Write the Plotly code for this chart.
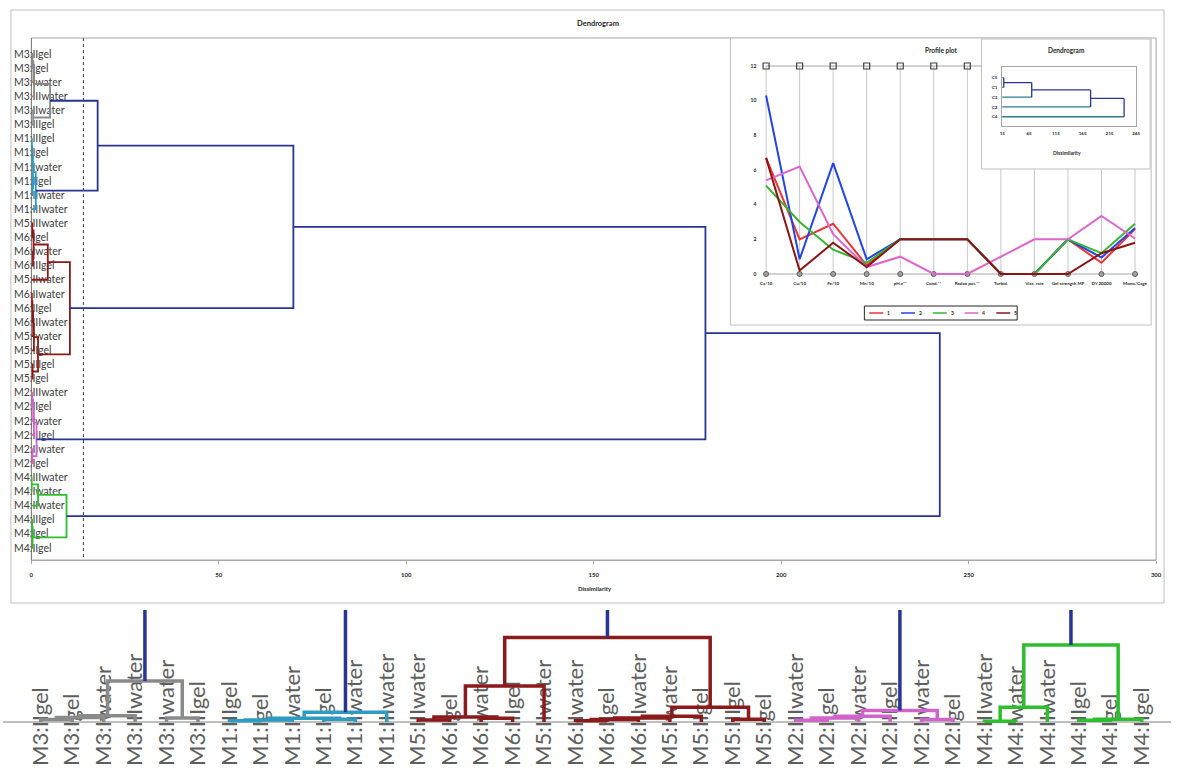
import plotly.graph_objects as go

W, H = 1177, 769

# ---------------------------------------------------------------- data
leaf_labels = [
    "M3:IIgel", "M3:Igel", "M3:Iwater", "M3:IIIwater", "M3:IIwater", "M3:IIIgel",
    "M1:IIIgel", "M1:Igel", "M1:Iwater", "M1:IIgel", "M1:IIwater", "M1:IIIwater",
    "M5:IIIwater", "M6:Igel", "M6:Iwater", "M6:IIIgel", "M5:IIwater", "M6:IIwater",
    "M6:IIgel", "M6:IIIwater", "M5:Iwater", "M5:IIgel", "M5:IIIgel", "M5:Igel",
    "M2:IIIwater", "M2:IIgel", "M2:Iwater", "M2:IIIgel", "M2:IIwater", "M2:Igel",
    "M4:IIIwater", "M4:Iwater", "M4:IIwater", "M4:IIIgel", "M4:Igel", "M4:IIgel",
]

# agglomeration steps (ids >= 36 refer to earlier steps, scipy-style)
merge_left = [0, 36, 37, 4, 38,
              6, 41, 9, 42, 44,
              12, 14, 46, 48, 17, 50, 51, 52, 22, 53, 49,
              24, 57, 58, 28, 59,
              30, 62, 33, 64, 63,
              40, 67, 68, 69]
merge_right = [1, 2, 3, 5, 39,
               7, 8, 10, 43, 11,
               13, 15, 47, 16, 18, 19, 20, 21, 23, 54, 55,
               25, 26, 27, 29, 60,
               31, 32, 34, 35, 65,
               45, 56, 61, 66]
merge_height = [0.30, 0.55, 0.75, 0.50, 5.00,
                0.15, 0.25, 0.35, 0.45, 1.20,
                0.25, 0.45, 0.60, 4.40, 0.15, 0.30, 0.50, 0.70, 0.35, 1.80, 10.30,
                0.20, 0.50, 0.70, 0.30, 1.40,
                0.10, 1.80, 0.20, 0.35, 9.40,
                17.70, 69.90, 179.80, 242.30]

truncation_level = 13.9
class_names = ["C5", "C1", "C3", "C2", "C4"]
class_colors = ["#8A8A8A", "#2E9CC0", "#8B1A1A", "#D064C8", "#2DBE2D"]
link_blue = "#283593"
class_leg_color = "#2E7D8C"

dissim_ticks = [0, 50, 100, 150, 200, 250, 300]
class_ticks = [15, 65, 115, 165, 215, 265]

profile_categories = ["Ca/10", "Cu/10", "Fe/10", "Mn/10", "pH.e**", "Cond.**",
                      "Redox pot.**", "Turbid.", "Visc. rate", "Gel strength MF",
                      "DY 20000", "Mono/Cage"]
profile_names = ["1", "2", "3", "4", "5"]
profile_values = [
    [6.7, 2.0, 2.9, 0.5, 2.0, 2.0, 2.0, 0.0, 0.0, 2.0, 0.65, 2.6],
    [10.3, 0.85, 6.4, 0.85, 2.0, 2.0, 2.0, 0.0, 0.0, 2.0, 0.95, 2.65],
    [5.1, 3.0, 1.4, 0.65, 2.0, 2.0, 2.0, 0.0, 0.0, 2.0, 1.2, 2.9],
    [5.4, 6.2, 2.3, 0.4, 1.0, 0.0, 0.0, 1.0, 2.0, 2.0, 3.35, 2.05],
    [6.7, 0.2, 1.8, 0.4, 2.0, 2.0, 2.0, 0.0, 0.0, 0.0, 1.2, 1.8],
]
profile_colors = ["#EE3333", "#2244E6", "#33B533", "#DD66CC", "#8B1515"]
profile_ticks = [0, 2, 4, 6, 8, 10, 12]
profile_ymax = 12


def fx(px):
    return px / W


def fy(py):
    return 1 - py / H


# ---------------------------------------------------------------- tree layout
n = len(leaf_labels)
node_pos = [float(i) for i in range(n)]
node_h = [0.0] * n
children = {}
for a, b, h in zip(merge_left, merge_right, merge_height):
    node_pos.append((node_pos[a] + node_pos[b]) / 2)
    node_h.append(h)
    children[len(node_pos) - 1] = (a, b)
root = len(node_pos) - 1

cluster_roots = []


def find_clusters(node):
    if node_h[node] < truncation_level:
        cluster_roots.append(node)
    else:
        for c in children[node]:
            find_clusters(c)


find_clusters(root)
cluster_roots.sort(key=lambda k: node_pos[k])

node_color = {}


def paint(node, col):
    node_color[node] = col
    for c in children.get(node, ()):
        paint(c, col)


for k, r in enumerate(cluster_roots):
    paint(r, class_colors[k])

# U-shaped links grouped by colour: lists of (height, position)
links = {}
for m, (a, b) in children.items():
    col = node_color.get(m, link_blue)
    hs, ps = links.setdefault(col, ([], []))
    hs += [node_h[a], node_h[m], node_h[m], node_h[b], None]
    ps += [node_pos[a], node_pos[a], node_pos[b], node_pos[b], None]

fig = go.Figure()

# ---------------------------------------------------------------- main dendrogram (horizontal)
main_ytop = -1.134
main_ybot = 35.86
fig.add_trace(go.Scatter(x=[0, 0], y=[main_ytop, main_ybot], mode="lines",
                         line=dict(color="#595959", width=1), hoverinfo="skip",
                         showlegend=False, xaxis="x", yaxis="y"))
fig.add_trace(go.Scatter(x=[truncation_level, truncation_level], y=[main_ytop, main_ybot],
                         mode="lines", line=dict(color="#404040", width=1, dash="dot"),
                         hoverinfo="skip", showlegend=False, xaxis="x", yaxis="y"))
for col, (hs, ps) in links.items():
    fig.add_trace(go.Scatter(x=hs, y=ps, mode="lines", line=dict(color=col, width=1.8),
                             hoverinfo="skip", showlegend=False, xaxis="x", yaxis="y"))

# ---------------------------------------------------------------- enlarged vertical view
strip_x0, strip_x1 = -1.199, 35.93
fig.add_trace(go.Scatter(x=[strip_x0, strip_x1], y=[0, 0], mode="lines",
                         line=dict(color="#7F7F7F", width=1), hoverinfo="skip",
                         showlegend=False, xaxis="x2", yaxis="y2"))
for col, (hs, ps) in links.items():
    fig.add_trace(go.Scatter(x=ps, y=hs, mode="lines", line=dict(color=col, width=3.5),
                             hoverinfo="skip", showlegend=False, xaxis="x2", yaxis="y2"))

# ---------------------------------------------------------------- profile plot
gx, gy = [], []
for c in profile_categories:
    gx += [c, c, None]
    gy += [0, profile_ymax, None]
fig.add_trace(go.Scatter(x=gx, y=gy, mode="lines", line=dict(color="#C8C8C8", width=1),
                         hoverinfo="skip", showlegend=False, xaxis="x3", yaxis="y3"))
fig.add_trace(go.Scatter(x=profile_categories, y=[profile_ymax] * len(profile_categories),
                         mode="lines+markers", line=dict(color="#A6A6A6", width=1.2),
                         marker=dict(symbol="square-open", size=6, color="#404040",
                                     line=dict(width=1.2)),
                         cliponaxis=False, hoverinfo="skip", showlegend=False,
                         xaxis="x3", yaxis="y3"))
fig.add_trace(go.Scatter(x=profile_categories, y=[0] * len(profile_categories),
                         mode="lines+markers", line=dict(color="#A6A6A6", width=1.2),
                         marker=dict(symbol="circle", size=5, color="#A0A0A0",
                                     line=dict(color="#606060", width=1)),
                         cliponaxis=False, hoverinfo="skip", showlegend=False,
                         xaxis="x3", yaxis="y3"))
for name, vals, col in zip(profile_names, profile_values, profile_colors):
    fig.add_trace(go.Scatter(x=profile_categories, y=vals, mode="lines", name=name,
                             line=dict(color=col, width=2), showlegend=False,
                             xaxis="x3", yaxis="y3"))

# ---------------------------------------------------------------- class dendrogram panel
fig.add_trace(go.Scatter(x=[0, 1, 1, 0, 0], y=[0, 0, 1, 1, 0], mode="lines", fill="toself",
                         fillcolor="white", line=dict(color="#BFBFBF", width=1),
                         hoverinfo="skip", showlegend=False, xaxis="x4", yaxis="y4"))

cls_pos = {r: float(k) for k, r in enumerate(cluster_roots)}


def class_position(node):
    if node not in cls_pos:
        a, b = children[node]
        cls_pos[node] = (class_position(a) + class_position(b)) / 2
    return cls_pos[node]


class_position(root)
leg_x, leg_y, up_x, up_y = [], [], [], []
for m, (a, b) in children.items():
    if node_h[m] < truncation_level:
        continue
    for c in (a, b):
        tx, ty = (leg_x, leg_y) if c in cluster_roots else (up_x, up_y)
        tx += [node_h[c], node_h[m], None]
        ty += [cls_pos[c], cls_pos[c], None]
    up_x += [node_h[m], node_h[m], None]
    up_y += [cls_pos[a], cls_pos[b], None]
fig.add_trace(go.Scatter(x=leg_x, y=leg_y, mode="lines", line=dict(color=class_leg_color, width=1.3),
                         hoverinfo="skip", showlegend=False, xaxis="x5", yaxis="y5"))
fig.add_trace(go.Scatter(x=up_x, y=up_y, mode="lines", line=dict(color=link_blue, width=1.3),
                         hoverinfo="skip", showlegend=False, xaxis="x5", yaxis="y5"))

# ---------------------------------------------------------------- axes
hidden = dict(showgrid=False, zeroline=False, showticklabels=False, ticks="", showline=False)
fig.update_layout(
    xaxis=dict(domain=[fx(28.5), fx(1162)], range=[0, 300], anchor="free",
               position=fy(560), side="bottom",
               tickmode="array", tickvals=dissim_ticks, showgrid=False, zeroline=False,
               showline=True, linecolor="#A6A6A6", linewidth=1,
               ticks="outside", ticklen=3, tickcolor="#A6A6A6", ticklabelstandoff=6,
               tickfont=dict(family="Lato", size=6, color="#262626", weight="bold")),
    yaxis=dict(domain=[fy(560), fy(38)], range=[main_ybot, main_ytop], anchor="free",
               position=fx(8), side="right", ticklabelposition="outside",
               tickmode="array", tickvals=list(range(n)), ticktext=leaf_labels,
               tickfont=dict(family="Lato", size=10.5, color="#404040"),
               showgrid=False, zeroline=False, showline=False, ticks="",
               ticklabelstandoff=2, layer="below traces"),
    xaxis2=dict(domain=[0, 1], range=[strip_x0, strip_x1], anchor="free",
                position=fy(766), side="top", tickmode="array",
                tickvals=list(range(n)), ticktext=leaf_labels, tickangle=-90,
                tickfont=dict(family="Lato", size=22, color="#5E5E5E"),
                showgrid=False, zeroline=False, showline=False, ticks="",
                layer="below traces"),
    yaxis2=dict(domain=[0, fy(610)], range=[-5.73, 13.66], anchor="x2", **hidden),
    xaxis3=dict(domain=[fx(762.2), fx(1147.5)], range=[-0.2, 11.2], anchor="y3",
                type="category", tickangle=0, showgrid=False, zeroline=False,
                showline=False, ticks="",
                tickfont=dict(family="Lato", size=4.5, color="#262626", weight="bold")),
    yaxis3=dict(domain=[fy(279.2), fy(60.8)], range=[-0.3, 12.3], anchor="x3",
                tickmode="array", tickvals=profile_ticks, showgrid=False, zeroline=False,
                showline=False, ticks="", ticklabelstandoff=2,
                tickfont=dict(family="Lato", size=5, color="#262626", weight="bold")),
    xaxis4=dict(domain=[fx(985), fx(1157)], range=[-0.006, 1.006], anchor="y4", **hidden),
    yaxis4=dict(domain=[fy(170), fy(38)], range=[-0.008, 1.008], anchor="x4", **hidden),
    xaxis5=dict(domain=[fx(1007), fx(1142)], range=[class_ticks[0], class_ticks[-1]],
                anchor="y5", tickmode="array", tickvals=class_ticks, showgrid=False,
                zeroline=False, showline=True, mirror=True, linecolor="#A6A6A6",
                ticks="", ticklabelstandoff=3,
                tickfont=dict(family="Lato", size=4.5, color="#262626", weight="bold")),
    yaxis5=dict(domain=[fy(125.7), fy(66.7)], range=[4.92, -1.128], anchor="x5",
                tickmode="array", tickvals=list(range(len(class_names))),
                ticktext=class_names, showgrid=False, zeroline=False, showline=True,
                mirror=True, linecolor="#A6A6A6", ticks="", ticklabelstandoff=3,
                tickfont=dict(family="Lato", size=4.5, color="#262626", weight="bold")),
)

# ---------------------------------------------------------------- frames and panels
shapes = [
    dict(type="rect", xref="paper", yref="paper", x0=fx(8), x1=fx(1170), y0=fy(603), y1=fy(10),
         line=dict(color="#BFBFBF", width=1), fillcolor="white", layer="below"),
    dict(type="rect", xref="paper", yref="paper", x0=fx(28.5), x1=fx(1162), y0=fy(560), y1=fy(38),
         line=dict(color="#A6A6A6", width=1), layer="below"),
    dict(type="rect", xref="paper", yref="paper", x0=fx(733), x1=fx(1157), y0=fy(325), y1=fy(38),
         line=dict(color="#BFBFBF", width=1), fillcolor="white", layer="below"),
    dict(type="rect", xref="paper", yref="paper", x0=fx(868), x1=fx(1022), y0=fy(320), y1=fy(306),
         line=dict(color="#262626", width=1), fillcolor="white", layer="below"),
]
annotations = []
for k, (name, col) in enumerate(zip(profile_names, profile_colors)):
    x0 = 873 + 32 * k
    shapes.append(dict(type="line", xref="paper", yref="paper", x0=fx(x0), x1=fx(x0 + 14),
                       y0=fy(313), y1=fy(313), line=dict(color=col, width=1.5)))
    annotations.append(dict(text=name, x=fx(x0 + 16), y=fy(313), xref="paper", yref="paper",
                            xanchor="left", yanchor="middle", showarrow=False,
                            font=dict(family="Lato", size=5, color="#262626", weight="bold")))


def label(text, px, py, size, bold=True):
    annotations.append(dict(text=text, x=fx(px), y=fy(py), xref="paper", yref="paper",
                            showarrow=False, xanchor="center", yanchor="middle",
                            font=dict(family="Lato", size=size, color="#262626",
                                      weight="bold" if bold else "normal")))


label("Dendrogram", 600, 23, 7.5)
label("Dissimilarity", 597, 588, 6)
label("Profile plot", 945, 51, 6.5)
label("Dendrogram", 1072, 51, 6.5)
label("Dissimilarity", 1072, 153, 5)

fig.update_layout(width=W, height=H, margin=dict(l=0, r=0, t=0, b=0),
                  paper_bgcolor="white", plot_bgcolor="rgba(0,0,0,0)",
                  shapes=shapes, annotations=annotations, showlegend=False)

fig.write_html("out.html")
